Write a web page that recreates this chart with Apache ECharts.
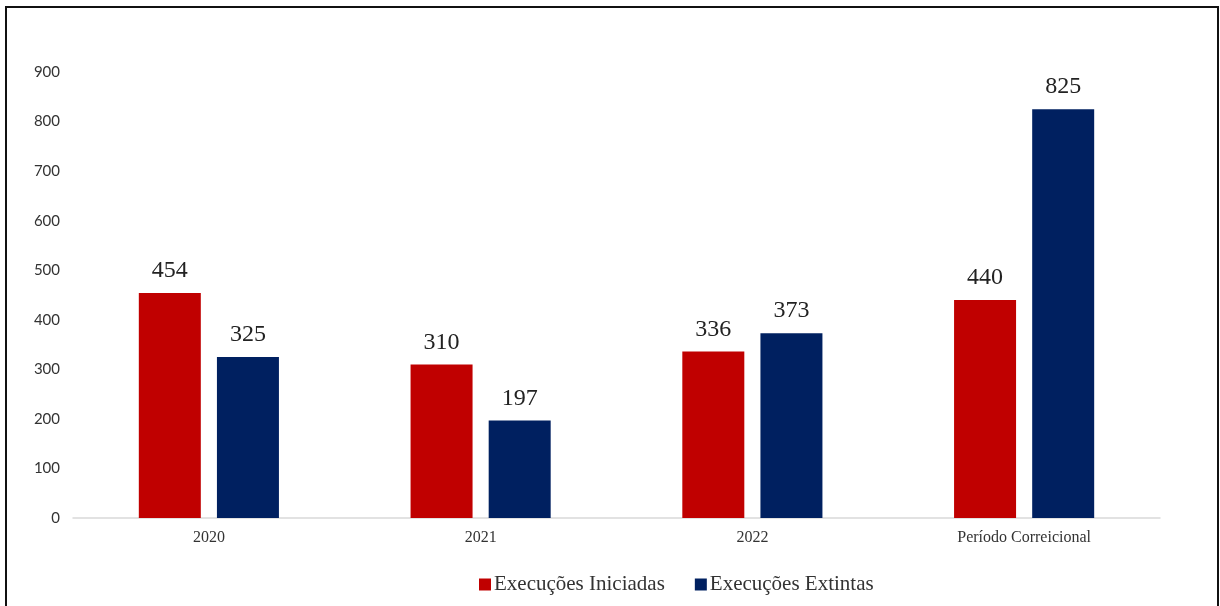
<!DOCTYPE html>
<html>
<head>
<meta charset="utf-8">
<script src="https://cdn.jsdelivr.net/npm/echarts@6/dist/echarts.min.js"></script>
<style>
  html, body { margin: 0; padding: 0; background: #fff; }
  #main { width: 1220px; height: 606px; }
</style>
</head>
<body>
<div id="main"></div>
<script>
// data
var categories = ['2020', '2021', '2022', 'Período Correicional'];
var iniciadas = [454, 310, 336, 440];
var extintas = [325, 197, 373, 825];
var yTicks = [0, 900, 100]; // min, max, interval

var serif = '"Liberation Serif", "Times New Roman", serif';

var myChart = echarts.init(document.getElementById('main'));

var labelStyle = {
    show: true,
    position: 'top',
    distance: 10,
    fontFamily: serif,
    fontSize: 24,
    color: '#222'
};

var option = {
    animation: false,
    backgroundColor: '#fff',
    graphic: [{
        type: 'rect',
        shape: { x: 6, y: 7, width: 1212, height: 640 },
        style: { fill: 'none', stroke: '#111', lineWidth: 2 }
    }],
    grid: { left: 73, right: 60, top: 72, bottom: 88 },
    legend: {
        left: 474,
        bottom: 6,
        itemWidth: 12,
        itemHeight: 12,
        itemGap: 30,
        icon: 'rect',
        textStyle: { fontFamily: serif, fontSize: 21, color: '#333', padding: [0, 0, 0, -2] },
        data: ['Execuções Iniciadas', 'Execuções Extintas']
    },
    xAxis: {
        type: 'category',
        data: categories,
        axisLine: { lineStyle: { color: '#d9d9d9', width: 1.5 } },
        axisTick: { show: false },
        axisLabel: { fontFamily: serif, fontSize: 16, color: '#333', margin: 12 }
    },
    yAxis: {
        type: 'value',
        min: yTicks[0],
        max: yTicks[1],
        interval: yTicks[2],
        splitLine: { show: false },
        axisLine: { show: false },
        axisTick: { show: false },
        axisLabel: { fontFamily: 'Lato, "Open Sans", sans-serif', fontSize: 15, color: '#333', margin: 13 }
    },
    series: [{
        name: 'Execuções Iniciadas',
        type: 'bar',
        data: iniciadas,
        barWidth: 62,
        barGap: '26%',
        itemStyle: { color: '#c00000' },
        label: labelStyle
    }, {
        name: 'Execuções Extintas',
        type: 'bar',
        data: extintas,
        barWidth: 62,
        itemStyle: { color: '#002060' },
        label: labelStyle
    }]
};

myChart.setOption(option);
</script>
</body>
</html>
